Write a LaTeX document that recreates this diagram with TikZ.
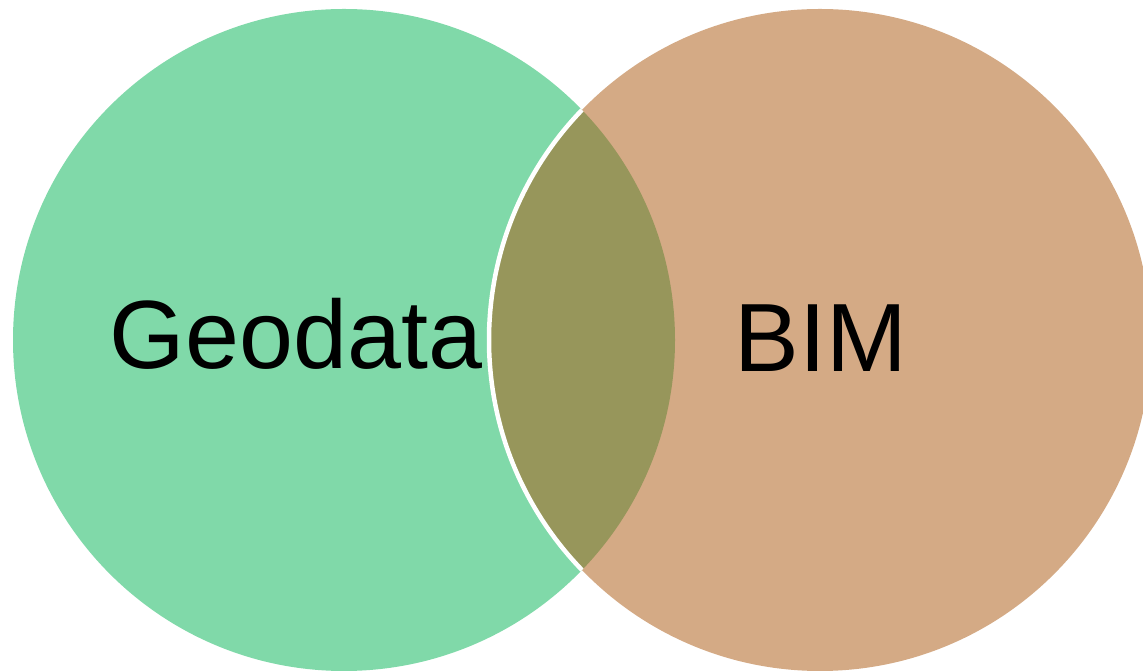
\documentclass[tikz,border=0pt]{standalone}
\usepackage{fontspec}
\setmainfont{Liberation Sans}
\definecolor{geogreen}{RGB}{128,217,169}
\definecolor{bimbrown}{RGB}{212,170,133}
\definecolor{lensolive}{RGB}{151,150,91}
\begin{document}
\begin{tikzpicture}[x=1pt,y=1pt,
  setlabel/.style={anchor=base, inner sep=0pt, font=\fontsize{97}{116}\selectfont}]
\useasboundingbox (0,0) rectangle (1143,671);
\coordinate (cg) at (344,331);
\coordinate (cb) at (820,331);
\fill[geogreen] (cg) circle[radius=331];
\fill[bimbrown] (cb) circle[radius=331];
\begin{scope}
  \clip (cg) circle[radius=331];
  \fill[lensolive] (cb) circle[radius=331];
\end{scope}
\begin{scope}
  \clip (cg) circle[radius=331];
  \draw[white, line width=4.5pt] (cb) circle[radius=331];
\end{scope}
\node[setlabel] (geo) at (296,302) {Geodata};
\node[setlabel] (bim) at (821,299) {BIM};
\end{tikzpicture}
\end{document}
